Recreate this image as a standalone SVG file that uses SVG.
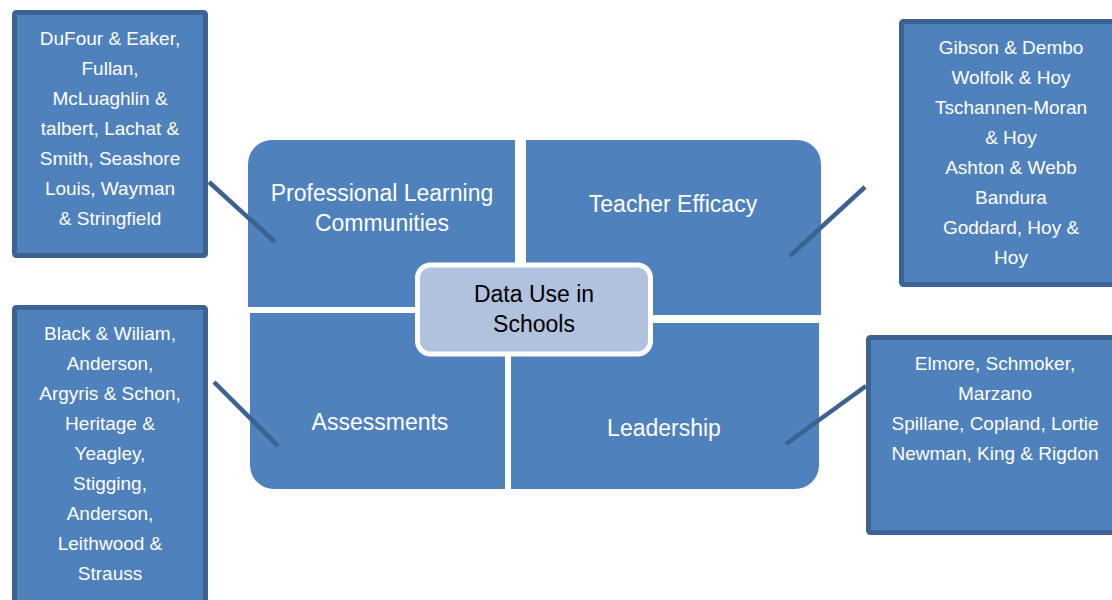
<svg xmlns="http://www.w3.org/2000/svg" width="1112" height="600" viewBox="0 0 1112 600">
<style>
.side{fill:#4f81bd;stroke:#3b6291;stroke-width:5}
.quad{fill:#4f81bd}
.st{font-family:"Liberation Sans",Arial,sans-serif;font-size:19px;fill:#ffffff;text-anchor:middle}
.qt{font-family:"Liberation Sans",Arial,sans-serif;font-size:23px;fill:#ffffff;text-anchor:middle}
.ct{font-family:"Liberation Sans",Arial,sans-serif;font-size:23px;fill:#000000;text-anchor:middle}
.conn{stroke:#3b6291;stroke-width:4.5;fill:none}
</style>
<rect width="1112" height="600" fill="#ffffff"/>
<g id="q-plc">
<path class="quad" d="M248,307 V164 A24,24 0 0 1 272,140 H515 V307 Z"/>
<text class="qt" x="382" y="201">Professional Learning</text>
<text class="qt" x="382" y="231">Communities</text>
</g>
<g id="q-efficacy">
<path class="quad" d="M526,140 H797 A24,24 0 0 1 821,164 V315 H526 Z"/>
<text class="qt" x="673" y="212">Teacher Efficacy</text>
</g>
<g id="q-assess">
<path class="quad" d="M250,313 H505 V489 H274 A24,24 0 0 1 250,465 Z"/>
<text class="qt" x="380" y="430">Assessments</text>
</g>
<g id="q-leader">
<path class="quad" d="M511,323 H819 V465 A24,24 0 0 1 795,489 H511 Z"/>
<text class="qt" x="664" y="436">Leadership</text>
</g>
<g id="center">
<rect x="417.5" y="265" width="233" height="89" rx="13" fill="#b1c2de" stroke="#ffffff" stroke-width="5"/>
<text class="ct" x="534" y="302">Data Use in</text>
<text class="ct" x="534" y="332">Schools</text>
</g>
<g id="box-plc">
<rect class="side" x="14.5" y="12.5" width="191" height="243" rx="2"/>
<text class="st" x="110" y="45">DuFour &amp; Eaker,</text>
<text class="st" x="110" y="75">Fullan,</text>
<text class="st" x="110" y="105">McLuaghlin &amp;</text>
<text class="st" x="110" y="135">talbert, Lachat &amp;</text>
<text class="st" x="110" y="165">Smith, Seashore</text>
<text class="st" x="110" y="195">Louis, Wayman</text>
<text class="st" x="110" y="225">&amp; Stringfield</text>
</g>
<g id="box-efficacy">
<rect class="side" x="901.5" y="21.5" width="230" height="263" rx="2"/>
<text class="st" x="1011" y="54">Gibson &amp; Dembo</text>
<text class="st" x="1011" y="84">Wolfolk &amp; Hoy</text>
<text class="st" x="1011" y="114">Tschannen-Moran</text>
<text class="st" x="1011" y="144">&amp; Hoy</text>
<text class="st" x="1011" y="174">Ashton &amp; Webb</text>
<text class="st" x="1011" y="204">Bandura</text>
<text class="st" x="1011" y="234">Goddard, Hoy &amp;</text>
<text class="st" x="1011" y="264">Hoy</text>
</g>
<g id="box-assess">
<rect class="side" x="14.5" y="307.5" width="191" height="320" rx="2"/>
<text class="st" x="110" y="340">Black &amp; Wiliam,</text>
<text class="st" x="110" y="370">Anderson,</text>
<text class="st" x="110" y="400">Argyris &amp; Schon,</text>
<text class="st" x="110" y="430">Heritage &amp;</text>
<text class="st" x="110" y="460">Yeagley,</text>
<text class="st" x="110" y="490">Stigging,</text>
<text class="st" x="110" y="520">Anderson,</text>
<text class="st" x="110" y="550">Leithwood &amp;</text>
<text class="st" x="110" y="580">Strauss</text>
</g>
<g id="box-leader">
<rect class="side" x="868.5" y="337.5" width="260" height="195" rx="2"/>
<text class="st" x="995" y="370">Elmore, Schmoker,</text>
<text class="st" x="995" y="400">Marzano</text>
<text class="st" x="995" y="430">Spillane, Copland, Lortie</text>
<text class="st" x="995" y="460">Newman, King &amp; Rigdon</text>
</g>
<g id="connectors">
<line class="conn" x1="209" y1="182" x2="275" y2="242"/>
<line class="conn" x1="865" y1="187" x2="790" y2="256"/>
<line class="conn" x1="214" y1="382" x2="278" y2="446"/>
<line class="conn" x1="866" y1="386" x2="786" y2="444"/>
</g>
</svg>
